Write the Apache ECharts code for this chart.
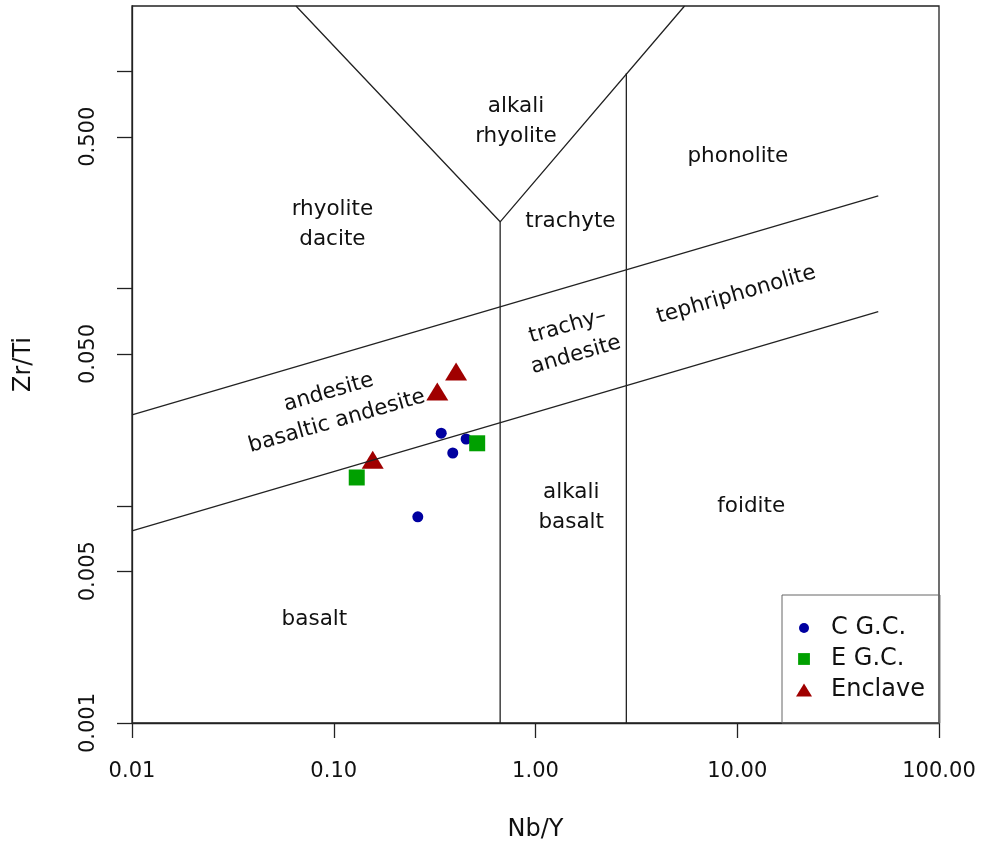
<!DOCTYPE html>
<html>
<head>
<meta charset="utf-8">
<title>Nb/Y vs Zr/Ti</title>
<script src="https://cdn.jsdelivr.net/npm/echarts@6.0.0/dist/echarts.min.js"></script>
<style>
  html, body { margin: 0; padding: 0; background: #fff; }
  #chart { width: 982px; height: 843px; }
</style>
</head>
<body>
<div id="chart"></div>
<script>
// samples as [Nb/Y, Zr/Ti]
const cgc = [[0.341, 0.0216], [0.453, 0.0203], [0.389, 0.0175], [0.261, 0.0089]];
const egc = [[0.514, 0.0194], [0.130, 0.0135]];
const enclave = [[0.404, 0.0415], [0.326, 0.0336], [0.156, 0.0163]];

// field boundaries, [Nb/Y, Zr/Ti]
const boundaries = [
  [[0.01, 0.0262], [50, 0.267]],
  [[0.01, 0.00767], [50, 0.0784]],
  [[0.065, 2], [0.668, 0.203], [5.48, 2]],
  [[0.668, 0.001], [0.668, 0.203]],
  [[2.82, 0.001], [2.82, 0.98]]
];

// field names and where they sit, [Nb/Y, Zr/Ti]
const fieldNames = ['alkali\nrhyolite', 'rhyolite\ndacite', 'trachyte', 'phonolite',
  'andesite\nbasaltic andesite', 'trachy–\nandesite', 'tephriphonolite',
  'alkali\nbasalt', 'foidite', 'basalt'];
const fieldAt = [[0.80, 0.587], [0.0985, 0.197], [1.49, 0.203], [10.07, 0.405],
  [0.0989, 0.0285], [1.514, 0.0576], [9.89, 0.0935],
  [1.503, 0.00986], [11.73, 0.00993], [0.0802, 0.00299]];

const xTicks = [0.01, 0.1, 1, 10, 100];
const yTicks = [0.001, 0.005, 0.01, 0.05, 0.1, 0.5, 1];
const yLabels = [0.001, 0.005, 0.05, 0.5];

const lg = Math.log10;
const toLog = p => [lg(p[0]), lg(p[1])];
const ink = '#111';
const frame = '#222';
const font = "'DejaVu Sans', 'Liberation Sans', sans-serif";
const tilted = { 'andesite\nbasaltic andesite': 16, 'trachy–\nandesite': 16, 'tephriphonolite': 16 };

// legend icons: the leading moves pad the box so the glyph keeps its size
const legendIcons = {
  'C G.C.': 'path://M0,0M13,13M11.5,6.5A5,5,0,1,1,1.5,6.5A5,5,0,1,1,11.5,6.5Z',
  'E G.C.': 'path://M0,0M13,13M0.6,0.6L12.4,0.6L12.4,12.4L0.6,12.4Z',
  'Enclave': 'path://M8.2,0L16.4,13.3L0,13.3Z'
};

const chart = echarts.init(document.getElementById('chart'));

const lineSeries = boundaries.map(b => ({
  type: 'line',
  data: b.map(toLog),
  symbol: 'none',
  silent: true,
  lineStyle: { color: frame, width: 1.3 }
}));

chart.setOption({
  animation: false,
  textStyle: { fontFamily: font },
  grid: {
    left: 132, right: 43, top: 6, bottom: 120,
    outerBoundsMode: 'none',
    show: true, borderColor: frame, borderWidth: 1.3
  },
  xAxis: {
    type: 'value', min: lg(xTicks[0]), max: lg(xTicks[xTicks.length - 1]), interval: 1,
    axisLine: { show: true, onZero: false, lineStyle: { color: frame, width: 1.3 } },
    axisTick: { show: true, length: 15, lineStyle: { color: frame, width: 1.3 } },
    axisLabel: {
      formatter: v => Math.pow(10, v).toFixed(2),
      fontSize: 21, color: ink, margin: 38, fontFamily: font
    },
    splitLine: { show: false },
    name: 'Nb/Y', nameLocation: 'middle', nameGap: 95,
    nameTextStyle: { fontSize: 24, color: ink, fontFamily: font }
  },
  yAxis: {
    type: 'value', min: -3, max: lg(2),
    axisLine: { show: true, onZero: false, lineStyle: { color: frame, width: 1.3 } },
    axisTick: { show: true, length: 15, customValues: yTicks.map(lg), lineStyle: { color: frame, width: 1.3 } },
    axisLabel: {
      customValues: yLabels.map(lg),
      formatter: v => Math.pow(10, v).toFixed(3),
      rotate: 90, fontSize: 21, color: ink, margin: 33, fontFamily: font
    },
    splitLine: { show: false },
    name: 'Zr/Ti', nameLocation: 'middle', nameGap: 96, nameRotate: 90,
    nameTextStyle: { fontSize: 24, color: ink, fontFamily: font }
  },
  legend: {
    data: Object.keys(legendIcons).map(n => ({ name: n, icon: legendIcons[n] })),
    orient: 'vertical', left: 782, top: 595,
    padding: [21, 15, 21, 14], itemGap: 7,
    itemWidth: 44, itemHeight: 13, symbolKeepAspect: true,
    borderColor: '#666', borderWidth: 1,
    textStyle: { fontSize: 24, color: ink, fontFamily: font }
  },
  series: lineSeries.concat([
    {
      type: 'scatter', silent: true, symbolSize: 1,
      itemStyle: { color: 'rgba(0,0,0,0)', opacity: 1 },
      data: fieldNames.map((n, i) => ({
        name: n, value: toLog(fieldAt[i]),
        label: { rotate: tilted[n] || 0 }
      })),
      label: {
        show: true, position: 'inside', formatter: '{b}', opacity: 1,
        fontSize: 21.5, lineHeight: 30, color: ink, fontFamily: font,
        textBorderWidth: 0, align: 'center', verticalAlign: 'middle'
      }
    },
    {
      name: 'C G.C.', type: 'scatter', symbol: 'circle', symbolSize: 11,
      itemStyle: { color: '#0000a0', opacity: 1 }, data: cgc.map(toLog)
    },
    {
      name: 'E G.C.', type: 'scatter', symbol: 'rect', symbolSize: 16,
      itemStyle: { color: '#00a000', opacity: 1 }, data: egc.map(toLog)
    },
    {
      name: 'Enclave', type: 'scatter', symbol: 'triangle', symbolSize: [22, 18],
      itemStyle: { color: '#a00000', opacity: 1 }, data: enclave.map(toLog)
    }
  ])
});
</script>
</body>
</html>
